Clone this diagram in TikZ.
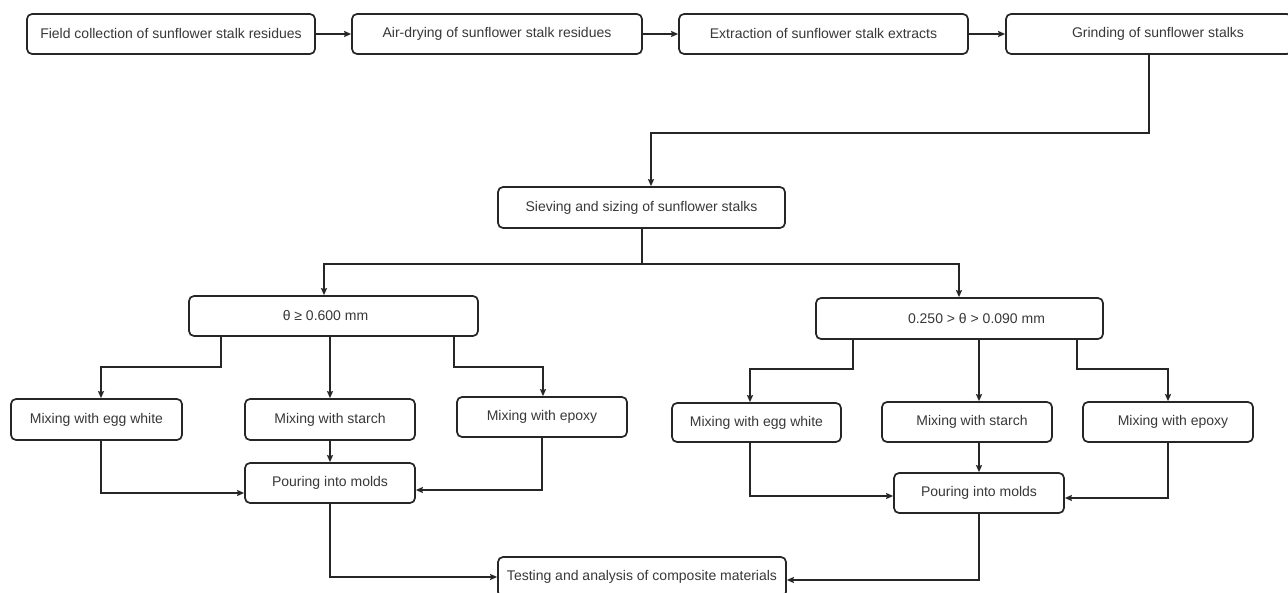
\documentclass[tikz,border=0pt]{standalone}
\usepackage{fontspec}
\setmainfont{Liberation Sans}
\usetikzlibrary{arrows.meta}
\definecolor{txt}{HTML}{383838}
\definecolor{lncol}{HTML}{262626}
\tikzset{
  box/.style={draw=lncol, line width=1.7pt, rounded corners=5pt, fill=white,
    text=txt, font=\fontsize{14}{16}\selectfont, inner sep=0pt, align=center},
  arr/.style={draw=lncol, line width=1.6pt, -{Stealth[length=7pt,width=6pt,inset=1pt]}},
  plainline/.style={draw=lncol, line width=1.6pt}
}
\begin{document}
\begin{tikzpicture}[x=1pt,y=-1pt]
\useasboundingbox[fill=white] (0,0) rectangle (1288,593);
% top row
\node[box, minimum width=288pt, minimum height=40pt] (field) at (171,34) {Field collection of sunflower stalk residues};
\node[box, minimum width=290pt, minimum height=40pt] (air) at (497,34) {Air-drying of sunflower stalk residues};
\node[box, minimum width=289pt, minimum height=40pt] (extr) at (823.5,34) {Extraction of sunflower stalk extracts};
\node[box, minimum width=286pt, minimum height=40pt] (grind) at (1149,34) {\hspace*{18pt}Grinding of sunflower stalks};
% sieving
\node[box, minimum width=287pt, minimum height=41pt] (sieve) at (641.5,207.5) {Sieving and sizing of sunflower stalks};
% size classes
\node[box, minimum width=289pt, minimum height=40pt] (thL) at (333.5,316) {θ ≥ 0.600 mm\hspace*{16pt}};
\node[box, minimum width=287pt, minimum height=41pt] (thR) at (959.5,318.5) {\hspace*{34pt}0.250 > θ > 0.090 mm};
% mixing left
\node[box, minimum width=171pt, minimum height=41pt] (eggL) at (96.5,419.5) {Mixing with egg white};
\node[box, minimum width=170pt, minimum height=41pt] (starL) at (330,419.5) {Mixing with starch};
\node[box, minimum width=170pt, minimum height=40pt] (epoL) at (542,417) {Mixing with epoxy};
\node[box, minimum width=170pt, minimum height=40pt] (pourL) at (330,483) {Pouring into molds};
% mixing right
\node[box, minimum width=169pt, minimum height=39pt] (eggR) at (756.5,422.5) {Mixing with egg white};
\node[box, minimum width=170pt, minimum height=40pt] (starR) at (967,422) {\hspace*{10pt}Mixing with starch};
\node[box, minimum width=170pt, minimum height=40pt] (epoR) at (1168,422) {\hspace*{10pt}Mixing with epoxy};
\node[box, minimum width=170pt, minimum height=40pt] (pourR) at (979,493) {Pouring into molds};
% testing
\node[box, minimum width=288pt, minimum height=40pt] (test) at (642,577) {Testing and analysis of composite materials};
% top arrows
\draw[arr] (field) -- (air);
\draw[arr] (air) -- (extr);
\draw[arr] (extr) -- (grind);
\draw[arr] (grind.south) -- ++(0,78) -| ([xshift=9.5pt]sieve.north);
% split
\draw[plainline] ([xshift=0.5pt]sieve.south) -- ++(0,35) coordinate (hub);
\draw[arr] (hub) -| ([xshift=-9.5pt]thL.north);
\draw[arr] (hub) -| ([xshift=-0.5pt]thR.north);
% left branches
\draw[arr] ([xshift=-112.5pt]thL.south) -- ++(0,30) -| ([xshift=4.5pt]eggL.north);
\draw[arr] ([xshift=-3.5pt]thL.south) -- (starL.north);
\draw[arr] ([xshift=120.5pt]thL.south) -- ++(0,30) -| ([xshift=1pt]epoL.north);
\draw[arr] ([xshift=4.5pt]eggL.south) |- ([yshift=-10pt]pourL.west);
\draw[arr] (starL.south) -- (pourL.north);
\draw[arr] (epoL.south) |- ([yshift=-7pt]pourL.east);
\draw[arr] (pourL.south) |- (test.west);
% right branches
\draw[arr] ([xshift=-106.5pt]thR.south) -- ++(0,29) -| ([xshift=-6.5pt]eggR.north);
\draw[arr] ([xshift=19.5pt]thR.south) -- ([xshift=12pt]starR.north);
\draw[arr] ([xshift=117.5pt]thR.south) -- ++(0,29) -| (epoR.north);
\draw[arr] ([xshift=-6.5pt]eggR.south) |- ([yshift=-3pt]pourR.west);
\draw[arr] ([xshift=12pt]starR.south) -- (pourR.north);
\draw[arr] (epoR.south) |- ([yshift=-5pt]pourR.east);
\draw[arr] (pourR.south) |- ([yshift=-3pt]test.east);
\end{tikzpicture}
\end{document}
